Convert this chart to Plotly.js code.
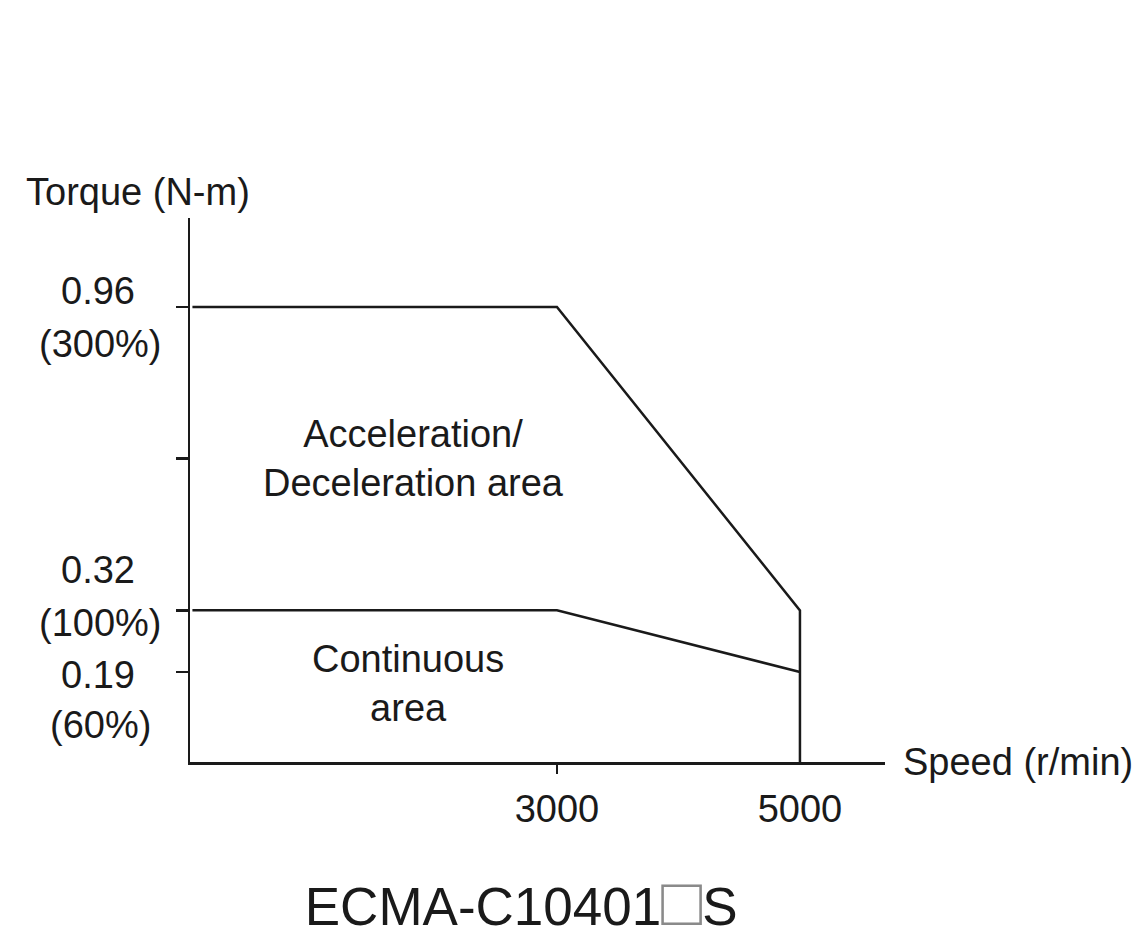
<!DOCTYPE html>
<html>
<head>
<meta charset="utf-8">
<script src="https://cdn.plot.ly/plotly-3.0.1.min.js"></script>
<style>html,body{margin:0;padding:0;background:#fff;}#chart{width:1143px;height:949px;}</style>
</head>
<body>
<div id="chart"></div>
<script>
// Data
const peakSpeed = [0, 3000, 5000, 5000];
const peakTorque = [0.96, 0.96, 0.32, 0];
const contSpeed = [0, 3000, 5000];
const contTorque = [0.32, 0.32, 0.19];
const yTickVals = [0.19, 0.32, 0.64, 0.96];
const yLabelVals = [0.96, 0.32, 0.19];
const yLabelNums = ['0.96', '0.32', '0.19'];
const yLabelPcts = ['(300%)', '(100%)', '(60%)'];
const xTickVals = [3000, 5000];
const xTickText = ['3000', '5000'];
const xMinorTick = [3000];
const titleText = 'ECMA-C10401<span style="color:#8a8a8a;font-size:68px">\u25A1</span>S';
const yTitle = 'Torque (N-m)';
const xTitle = 'Speed (r/min)';
const accelText = 'Acceleration/<br>Deceleration area';
const contText = 'Continuous<br>area';

const FONT = 'Liberation Sans, Arial, sans-serif';
const INK = '#1a1a1a';
const fs = 38;

const traces = [
  {x: peakSpeed, y: peakTorque, mode: 'lines', line: {color: INK, width: 2.5}, hoverinfo: 'none', xaxis: 'x', yaxis: 'y'},
  {x: contSpeed, y: contTorque, mode: 'lines', line: {color: INK, width: 2.5}, hoverinfo: 'none', xaxis: 'x', yaxis: 'y'}
];

const numShift = [16, 40, -3];
const pctShift = [-37, -13, -53];

const annotations = [];
yLabelVals.forEach((v, i) => {
  annotations.push({xref: 'paper', yref: 'y', x: 0, y: v, xshift: -92, yshift: numShift[i], text: yLabelNums[i], showarrow: false, xanchor: 'center', yanchor: 'middle', borderpad: 0, font: {family: FONT, size: fs, color: INK}});
  annotations.push({xref: 'paper', yref: 'y', x: 0, y: v, xshift: -90, yshift: pctShift[i], text: yLabelPcts[i], showarrow: false, xanchor: 'center', yanchor: 'middle', borderpad: 0, font: {family: FONT, size: fs, color: INK}});
});
annotations.push({xref: 'paper', yref: 'paper', x: 0, y: 1, xshift: -166, yshift: 26, text: yTitle, showarrow: false, xanchor: 'left', yanchor: 'middle', font: {family: FONT, size: fs, color: INK}});
annotations.push({xref: 'paper', yref: 'y', x: 1, y: 0, xshift: 16, text: xTitle, showarrow: false, xanchor: 'left', yanchor: 'middle', font: {family: FONT, size: fs, color: INK}});
annotations.push({xref: 'x', yref: 'y', x: 1823, y: 0.64, text: accelText, showarrow: false, xanchor: 'center', yanchor: 'middle', font: {family: FONT, size: fs, color: INK}});
annotations.push({xref: 'x', yref: 'y', x: 1774, y: 0.165, text: contText, showarrow: false, xanchor: 'center', yanchor: 'middle', font: {family: FONT, size: fs, color: INK}});

const layout = {
  width: 1143, height: 949,
  margin: {l: 190, r: 258, t: 218, b: 187},
  paper_bgcolor: '#ffffff', plot_bgcolor: '#ffffff',
  showlegend: false,
  title: {text: titleText, xref: 'container', yref: 'container', x: 0.456, y: 0.045, xanchor: 'center', yanchor: 'middle', font: {family: FONT, size: 53, color: INK}},
  xaxis: {range: [-20, 5700], showgrid: false, zeroline: false, showline: true, linecolor: INK, linewidth: 2.5,
          tickvals: xTickVals, ticktext: xTickText, ticks: '', tickfont: {family: FONT, size: fs, color: INK}, ticklabelstandoff: 12, fixedrange: true},
  xaxis2: {range: [-20, 5700], overlaying: 'x', side: 'bottom', showgrid: false, zeroline: false, showline: false,
           tickvals: xMinorTick, ticks: 'outside', ticklen: 11, tickwidth: 2.5, tickcolor: INK, showticklabels: false, fixedrange: true},
  yaxis: {range: [0, 1.148], showgrid: false, zeroline: false, showline: true, linecolor: INK, linewidth: 2.5,
          tickvals: yTickVals, ticks: 'outside', ticklen: 12, tickwidth: 2.5, tickcolor: INK, showticklabels: false, fixedrange: true},
  annotations: annotations
};

traces.push({x: [3000], y: [0], mode: 'markers', marker: {opacity: 0}, hoverinfo: 'none', xaxis: 'x2', yaxis: 'y'});

Plotly.newPlot('chart', traces, layout, {staticPlot: true, displayModeBar: false});
</script>
</body>
</html>
